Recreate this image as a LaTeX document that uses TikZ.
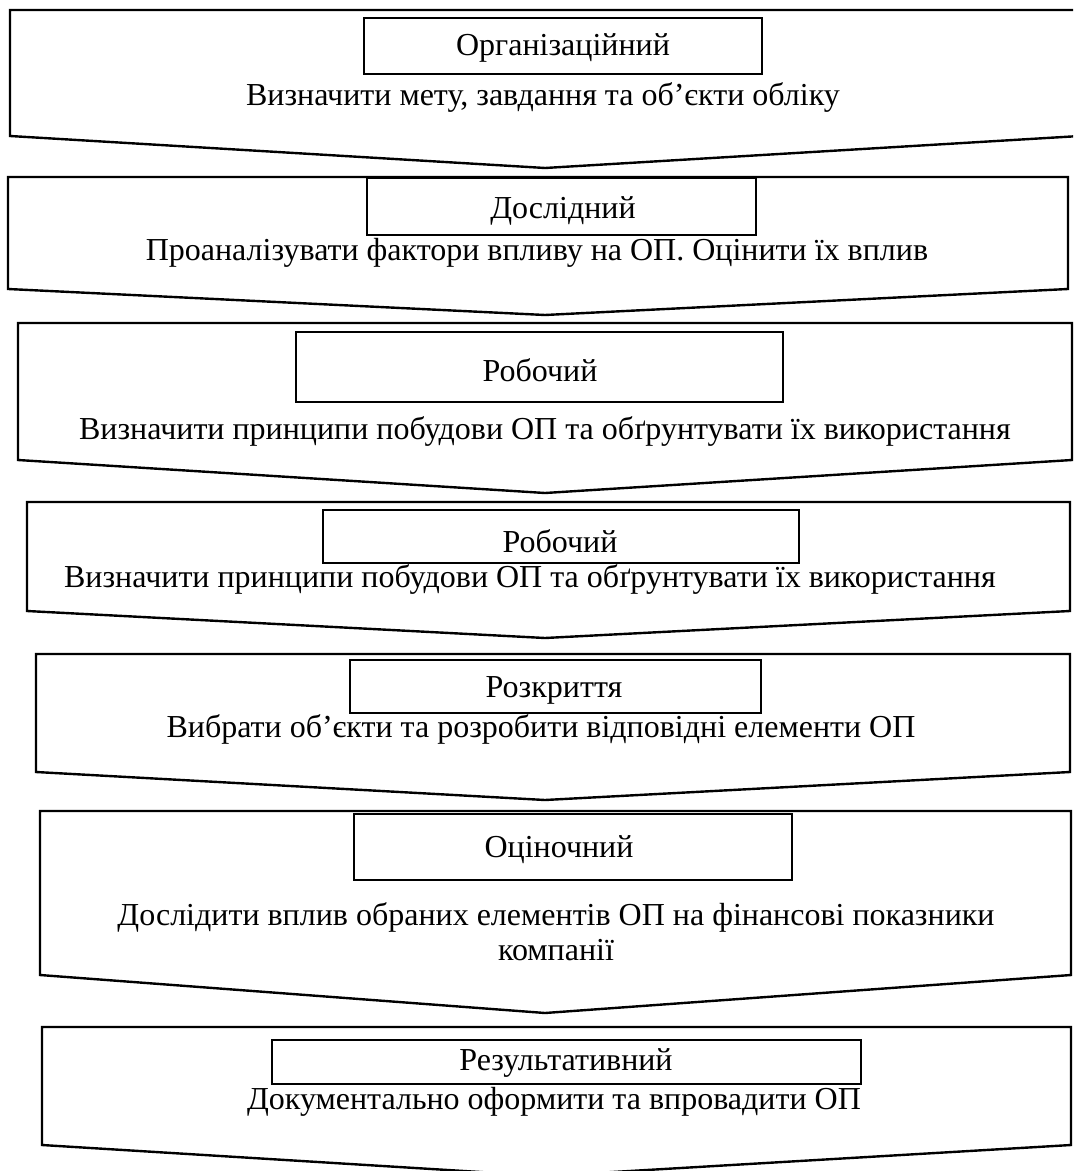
\documentclass[tikz,border=0pt]{standalone}
\usepackage{fontspec}
\setmainfont{Liberation Serif}

\begin{document}
\begin{tikzpicture}[x=0.5pt, y=-0.5pt,
        stage/.style={draw, line width=1.2pt, line join=miter},
        frame/.style={draw, line width=1.1pt},
        T/.style={font=\fontsize{16}{20}\selectfont, inner sep=0pt, align=center}
    ]

    \def\px{545}
    \useasboundingbox (0,0) rectangle (1073,1171);
    \clip (0,0) rectangle (1073,1171);

    \foreach \t/\s/\p/\l/\r in {10/136/168/10/1080, 177/289/315/8/1068,
        323/460/493/18/1072, 502/611/638/27/1070, 654/772/800/36/1070,
        811/975/1013/40/1071, 1027/1145/1176/42/1071}{
        \draw[stage] (\l,\t) -- (\r,\t) -- (\r,\s) -- (\px,\p) -- (\l,\s) -- cycle;
    }

    \foreach \a/\b/\c/\d in {364/18/762/74, 367/178/756/235, 296/332/783/402,
        323/510/799/563, 350/660/761/713, 354/814/792/880, 272/1040/861/1084}{
        \draw[frame] (\a,\b) rectangle (\c,\d);
    }

    \node[T] (org) at (563,48) {Організаційний};
    \node[T] (t1) at (543,98) {Визначити мету, завдання та об’єкти обліку};

    \node[T] (dosl) at (563,211) {Дослідний};
    \node[T] (t2) at (537,253) {Проаналізувати фактори впливу на ОП. Оцінити їх вплив};

    \node[T] (rob) at (540,370) {Робочий};
    \node[T] (t3) at (545,431) {Визначити принципи побудови ОП та обґрунтувати їх використання};

    \node[T] (robb) at (560,541) {Робочий};
    \node[T] (t4) at (530,579) {Визначити принципи побудови ОП та обґрунтувати їх використання};

    \node[T] (rozk) at (554,690) {Розкриття};
    \node[T] (t5) at (541,729) {Вибрати об’єкти та розробити відповідні елементи ОП};

    \node[T] (ocin) at (559,850) {Оціночний};
    \node[T, font=\fontsize{16}{17.5}\selectfont] (t6) at (556,932) {Дослідити вплив обраних елементів ОП на фінансові показники\\компанії};

    \node[T] (rez) at (566,1063) {Результативний};
    \node[T] (t7) at (554,1102) {Документально оформити та впровадити ОП};
\end{tikzpicture}
\end{document}
